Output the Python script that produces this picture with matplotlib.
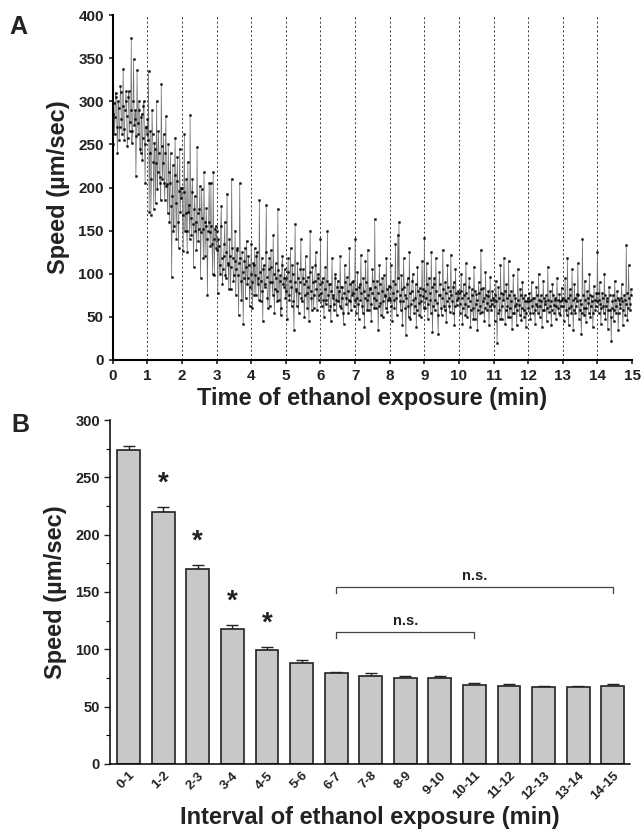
import numpy as np
import matplotlib
matplotlib.use('Agg')
import matplotlib.pyplot as plt
import matplotlib.transforms as mtransforms

plt.rcParams['font.family'] = ['Liberation Sans', 'DejaVu Sans']
plt.rcParams['font.weight'] = 'bold'

# Painel A: velocidade ao longo do tempo (leituras por minuto)
min_00 = [250, 285, 298, 262, 282, 310, 305, 270, 240, 300, 292, 255, 270, 318, 311, 280, 262, 295, 338, 268,
          255, 290, 300, 312, 283, 248, 258, 305, 312, 265, 276, 290, 373, 252, 265, 300, 349, 272, 280, 290,
          213, 260, 336, 275, 262, 300, 290, 245, 240, 282, 285, 232, 258, 295, 300, 250, 205, 270, 270, 262]
min_01 = [280, 255, 335, 172, 240, 265, 168, 210, 290, 262, 230, 175, 252, 245, 182, 228, 300, 198, 218, 265,
          240, 212, 205, 185, 320, 248, 210, 228, 262, 205, 186, 240, 283, 202, 204, 170, 250, 218, 160, 205,
          240, 178, 96, 190, 226, 150, 155, 215, 258, 182, 140, 208, 235, 160, 130, 196, 245, 172, 200, 188]
min_02 = [200, 168, 126, 195, 262, 150, 170, 210, 150, 125, 230, 172, 180, 140, 284, 165, 145, 195, 210, 158,
          108, 175, 190, 150, 160, 128, 247, 170, 138, 152, 175, 202, 95, 148, 198, 165, 152, 118, 218, 160,
          120, 155, 176, 140, 75, 150, 160, 205, 148, 132, 205, 155, 135, 100, 218, 140, 98, 152, 155, 130]
min_03 = [150, 128, 78, 140, 132, 110, 100, 155, 178, 118, 88, 105, 120, 135, 160, 98, 95, 125, 193, 112,
          110, 82, 140, 120, 82, 108, 210, 130, 118, 92, 98, 115, 150, 75, 105, 128, 130, 98, 52, 112,
          205, 118, 92, 70, 125, 102, 42, 95, 115, 130, 72, 108, 138, 88, 95, 120, 110, 62, 85, 100]
min_04 = [135, 90, 60, 112, 110, 75, 130, 98, 75, 120, 125, 88, 95, 70, 185, 102, 68, 92, 118, 80,
          45, 105, 110, 85, 88, 125, 180, 96, 72, 60, 105, 118, 62, 90, 128, 108, 90, 75, 145, 100,
          55, 82, 112, 95, 80, 68, 175, 104, 70, 92, 98, 52, 60, 110, 120, 88, 85, 95, 105, 72]
min_05 = [95, 80, 48, 102, 118, 75, 70, 92, 130, 85, 62, 110, 100, 68, 35, 90, 158, 82, 80, 62,
          112, 95, 55, 78, 90, 105, 140, 72, 68, 95, 105, 88, 50, 75, 120, 92, 78, 60, 96, 85,
          45, 102, 150, 80, 72, 58, 108, 90, 60, 75, 92, 110, 125, 82, 58, 95, 100, 70, 75, 88]
min_06 = [140, 78, 62, 90, 95, 70, 50, 82, 108, 65, 70, 92, 150, 75, 58, 88, 88, 62, 45, 80,
          118, 72, 75, 58, 65, 95, 100, 70, 52, 85, 92, 68, 80, 62, 120, 85, 60, 72, 85, 55,
          42, 78, 110, 90, 72, 65, 96, 80, 55, 70, 130, 88, 68, 58, 90, 75, 78, 92, 62, 70]
min_07 = [140, 82, 55, 72, 102, 65, 48, 85, 88, 70, 122, 78, 62, 55, 95, 80, 38, 72, 115, 90,
          70, 58, 128, 75, 58, 82, 84, 65, 45, 78, 105, 92, 72, 60, 163, 85, 60, 70, 92, 78,
          35, 62, 110, 88, 66, 52, 80, 95, 50, 68, 98, 75, 74, 60, 118, 82, 56, 70, 86, 72]
min_08 = [70, 85, 110, 62, 45, 78, 92, 70, 60, 88, 135, 72, 52, 80, 145, 95, 160, 75, 68, 58,
          98, 82, 40, 68, 118, 85, 75, 60, 29, 72, 88, 95, 62, 50, 125, 78, 48, 65, 80, 92,
          100, 70, 55, 62, 72, 88, 38, 58, 108, 80, 66, 52, 84, 75, 50, 68, 115, 82, 74, 60]
min_09 = [142, 80, 60, 72, 112, 88, 48, 65, 95, 78, 70, 55, 125, 85, 32, 62, 88, 95, 58, 70,
          118, 80, 66, 52, 30, 75, 102, 88, 75, 60, 52, 72, 128, 82, 62, 58, 90, 78, 44, 68,
          110, 85, 72, 62, 56, 80, 122, 75, 68, 55, 85, 90, 40, 62, 105, 78, 64, 70, 80, 72]
min_10 = [78, 65, 55, 80, 100, 72, 42, 60, 88, 75, 65, 52, 112, 78, 50, 62, 72, 85, 95, 68,
          38, 58, 82, 75, 60, 48, 108, 80, 48, 65, 76, 70, 35, 58, 90, 78, 62, 55, 128, 82,
          56, 68, 84, 72, 45, 60, 102, 75, 66, 58, 74, 80, 40, 62, 96, 70, 58, 65, 80, 72]
min_11 = [70, 62, 45, 75, 92, 68, 20, 55, 85, 72, 58, 48, 110, 78, 48, 62, 76, 70, 118, 80,
          42, 58, 88, 72, 62, 50, 115, 75, 50, 60, 80, 68, 36, 55, 98, 75, 55, 62, 72, 65,
          40, 58, 105, 70, 64, 52, 82, 75, 46, 60, 90, 72, 58, 50, 75, 68, 38, 55, 68, 72]
min_12 = [60, 68, 78, 55, 48, 70, 90, 62, 55, 72, 72, 58, 42, 65, 85, 75, 62, 55, 100, 70,
          50, 62, 75, 68, 38, 58, 92, 72, 58, 65, 68, 75, 45, 60, 108, 70, 56, 62, 80, 68,
          40, 58, 88, 75, 64, 55, 70, 72, 48, 62, 95, 70, 60, 55, 76, 68, 52, 62, 84, 70]
min_13 = [72, 62, 45, 70, 95, 68, 58, 52, 118, 72, 40, 60, 82, 75, 62, 55, 105, 70, 35, 58,
          88, 72, 55, 62, 76, 68, 112, 75, 48, 58, 70, 65, 30, 55, 140, 75, 60, 52, 92, 70,
          44, 60, 80, 72, 66, 55, 100, 75, 50, 62, 74, 68, 38, 55, 86, 70, 58, 62, 78, 68]
min_14 = [125, 78, 55, 70, 90, 65, 42, 60, 78, 72, 62, 55, 100, 75, 48, 62, 72, 68, 36, 58,
          85, 75, 58, 50, 22, 60, 68, 75, 45, 58, 92, 70, 54, 62, 80, 72, 35, 55, 70, 65,
          60, 72, 88, 68, 40, 58, 75, 70, 52, 65, 133, 78, 46, 60, 110, 72, 65, 58, 82, 75]

minutos = [min_00, min_01, min_02, min_03, min_04, min_05, min_06, min_07,
           min_08, min_09, min_10, min_11, min_12, min_13, min_14]
tempo = np.concatenate([m + np.arange(len(v)) / len(v) for m, v in enumerate(minutos)])
velocidade = np.concatenate([np.array(v, dtype=float) for v in minutos])

# Painel B: media por intervalo
intervalos = ['0-1', '1-2', '2-3', '3-4', '4-5', '5-6', '6-7', '7-8', '8-9', '9-10',
              '10-11', '11-12', '12-13', '13-14', '14-15']
media = [274, 220, 170, 118, 99, 88, 79, 77, 75, 75, 69, 68, 67, 67, 68]
erro = [3, 4, 3.5, 3, 3, 2.5, 1.5, 2, 2, 2, 1.5, 1.5, 1, 1, 1.5]
significativo = [1, 2, 3, 4]

cor_texto = '#222222'
fig = plt.figure(figsize=(6.41, 8.39), dpi=100)

# ---- A ----
ax1 = fig.add_axes([0.176, 0.571, 0.810, 0.411])
for m in range(1, 16):
    ax1.axvline(m, color='#333333', lw=0.7, ls=(0, (2, 2.5)), zorder=1)
ax1.plot(tempo, velocidade, color='#707070', lw=0.5, marker='s', ms=1.3,
         mfc='black', mec='black', mew=0.3, zorder=2)
ax1.set_xlim(0, 15)
ax1.set_ylim(0, 400)
ax1.set_xticks(range(0, 16))
ax1.set_yticks(range(0, 401, 50))
ax1.spines['top'].set_visible(False)
ax1.spines['right'].set_visible(False)
ax1.spines['left'].set_linewidth(1.5)
ax1.spines['bottom'].set_linewidth(1.5)
ax1.tick_params(labelsize=11, width=1.2, length=3, direction='out', colors=cor_texto)
ax1.set_xlabel('Time of ethanol exposure (min)', fontsize=17, fontweight='bold', color=cor_texto, labelpad=3)
ax1.set_ylabel('Speed (µm/sec)', fontsize=17, fontweight='bold', color=cor_texto, labelpad=6)
fig.text(0.015, 0.982, 'A', fontsize=18, fontweight='bold', va='top', ha='left', color=cor_texto)

# ---- B ----
ax2 = fig.add_axes([0.172, 0.0894, 0.811, 0.410])
x = np.arange(len(intervalos))
ax2.bar(x, media, width=0.66, color='#c8c8c8', edgecolor=cor_texto, linewidth=1.2, zorder=2)
ax2.errorbar(x, media, yerr=[np.zeros(len(erro)), erro], fmt='none', ecolor=cor_texto,
             elinewidth=1.0, capsize=4, capthick=1.0, zorder=1)
for i in significativo:
    ax2.annotate('*', xy=(x[i], media[i] + erro[i]), xytext=(0, 17), textcoords='offset points',
                 ha='center', va='center', fontsize=20, fontweight='bold', color=cor_texto)

# colchetes n.s.
ax2.plot([6, 6, 14, 14], [149.5, 154.5, 154.5, 149.5], color='#444444', lw=0.9)
ax2.text(10, 158, 'n.s.', ha='center', va='bottom', fontsize=10.5, fontweight='bold', color=cor_texto)
ax2.plot([6, 6, 10, 10], [110, 115, 115, 110], color='#444444', lw=0.9)
ax2.text(8, 119, 'n.s.', ha='center', va='bottom', fontsize=10.5, fontweight='bold', color=cor_texto)

ax2.set_xlim(-0.53, 14.5)
ax2.set_ylim(0, 300)
ax2.set_yticks(range(0, 301, 50))
ax2.set_yticks(range(25, 300, 50), minor=True)
ax2.set_xticks(x)
ax2.set_xticklabels(intervalos, rotation=45, ha='right', rotation_mode='anchor', fontsize=9.5)
desloc = mtransforms.ScaledTranslation(6 / 72, 0, fig.dpi_scale_trans)
for rotulo in ax2.get_xticklabels():
    rotulo.set_transform(rotulo.get_transform() + desloc)
ax2.spines['top'].set_visible(False)
ax2.spines['right'].set_visible(False)
ax2.spines['left'].set_linewidth(1.1)
ax2.spines['bottom'].set_linewidth(1.1)
ax2.tick_params(axis='y', labelsize=10.5, width=1.0, length=4, direction='out', colors=cor_texto)
ax2.tick_params(axis='y', which='minor', width=0.8, length=3)
ax2.tick_params(axis='x', length=0, pad=4, colors=cor_texto)
ax2.set_xlabel('Interval of ethanol exposure (min)', fontsize=17, fontweight='bold', color=cor_texto, labelpad=3)
ax2.set_ylabel('Speed (µm/sec)', fontsize=17, fontweight='bold', color=cor_texto, labelpad=6)
fig.text(0.017, 0.508, 'B', fontsize=18, fontweight='bold', va='top', ha='left', color=cor_texto)

fig.savefig('out.png', dpi=100)
